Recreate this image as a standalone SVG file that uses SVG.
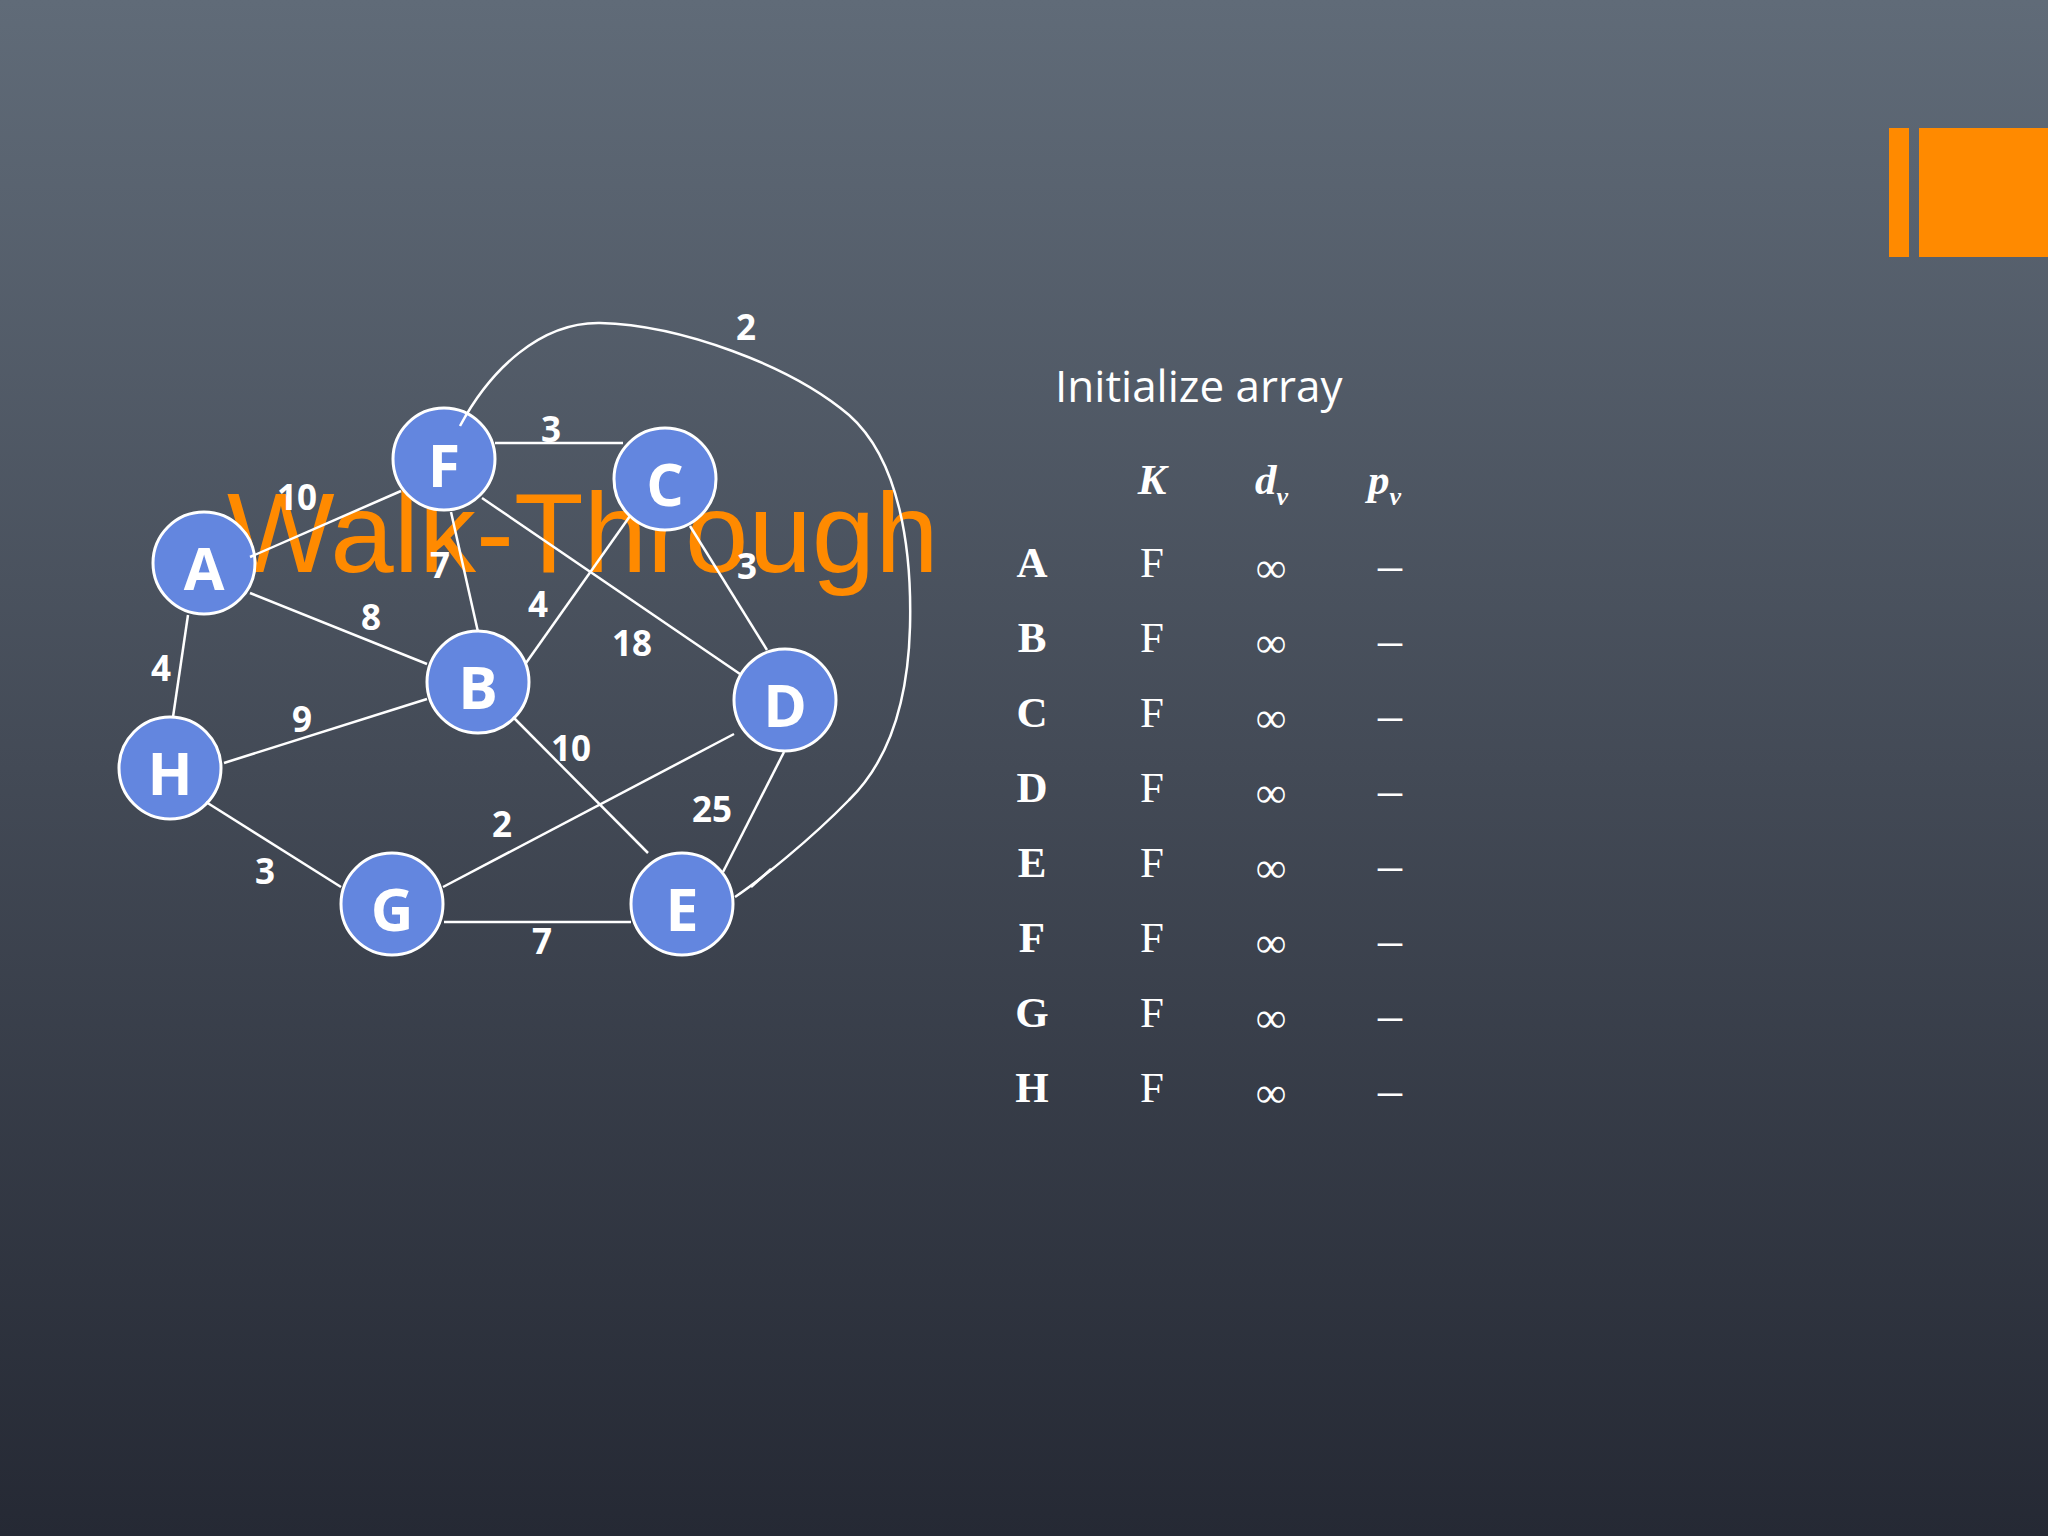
<svg xmlns="http://www.w3.org/2000/svg" width="2048" height="1536" viewBox="0 0 2048 1536">
  <defs>
    <linearGradient id="bg" x1="0" y1="0" x2="0" y2="1">
      <stop offset="0" stop-color="#606b78"/>
      <stop offset="0.5" stop-color="#434a56"/>
      <stop offset="1" stop-color="#252934"/>
    </linearGradient>
    <style>
      .node circle { fill: #6386df; stroke: #ffffff; stroke-width: 3; }
      .node text { font-family: "Open Sans", "Liberation Sans", sans-serif; font-weight: bold; font-size: 59px; fill: #ffffff; text-anchor: middle; }
      .edge { stroke: #ffffff; stroke-width: 2.5; fill: none; }
      .wt { font-family: "Open Sans", "Liberation Sans", sans-serif; font-weight: bold; font-size: 35px; fill: #ffffff; text-anchor: middle; }
      .tb { font-family: "Liberation Serif", "Times New Roman", serif; font-size: 43px; fill: #ffffff; text-anchor: middle; }
      .tbs { font-family: "Liberation Serif", "Times New Roman", serif; font-size: 43px; fill: #ffffff; text-anchor: start; }
      .rowh { font-weight: bold; }
      .hd { font-weight: bold; font-style: italic; }
      .dash { font-size: 48px; }
      .orange { fill: #ff8a00; }
    </style>
  </defs>

  <rect x="0" y="0" width="2048" height="1536" fill="url(#bg)"/>

  <!-- decorative bars -->
  <rect class="orange" x="1889" y="128" width="20" height="129"/>
  <rect class="orange" x="1919" y="128" width="129" height="129"/>

  <!-- title -->
  <text x="227" y="572" font-family="Liberation Sans, Arial, sans-serif" font-size="114" class="orange">Walk-Through</text>

  <!-- nodes -->
  <g id="node-F" class="node"><circle cx="444" cy="459" r="51"/><text x="444" y="487">F</text></g>
  <g id="node-C" class="node"><circle cx="665" cy="479" r="51"/><text x="665" y="506">C</text></g>
  <g id="node-A" class="node"><circle cx="204" cy="563" r="51"/><text x="204" y="590">A</text></g>
  <g id="node-B" class="node"><circle cx="478" cy="682" r="51"/><text x="478" y="709">B</text></g>
  <g id="node-D" class="node"><circle cx="785" cy="700" r="51"/><text x="785" y="727">D</text></g>
  <g id="node-H" class="node"><circle cx="170" cy="768" r="51"/><text x="170" y="795">H</text></g>
  <g id="node-G" class="node"><circle cx="392" cy="904" r="51"/><text x="392" y="931">G</text></g>
  <g id="node-E" class="node"><circle cx="682" cy="904" r="51"/><text x="682" y="931">E</text></g>

  <!-- connectors -->
  <g id="connectors">
    <line class="edge" x1="495" y1="443" x2="623" y2="443"/>
    <line class="edge" x1="250" y1="557" x2="401" y2="491"/>
    <line class="edge" x1="451" y1="512" x2="478" y2="632"/>
    <line class="edge" x1="482" y1="498" x2="740" y2="674"/>
    <line class="edge" x1="630" y1="516" x2="526" y2="663"/>
    <line class="edge" x1="690" y1="526" x2="767" y2="650"/>
    <line class="edge" x1="250" y1="593" x2="427" y2="664"/>
    <line class="edge" x1="188" y1="615" x2="173" y2="717"/>
    <line class="edge" x1="224" y1="763" x2="427" y2="699"/>
    <line class="edge" x1="206" y1="802" x2="341" y2="887"/>
    <line class="edge" x1="443" y1="887" x2="734" y2="734"/>
    <line class="edge" x1="444" y1="922" x2="631" y2="922" stroke-width="3.5"/>
    <line class="edge" x1="513" y1="717" x2="648" y2="853"/>
    <line class="edge" x1="784" y1="752" x2="723" y2="872"/>
    <path class="edge" d="M460,426 C490,370 540,322 600,323 C680,325 790,365 849,415 C900,460 912,550 910,627 C908,700 890,760 849,800 C810,840 760,880 735,897"/>
    <line class="edge" x1="751" y1="887" x2="771" y2="869"/>
  </g>

  <!-- edge weights -->
  <g id="weights">
    <text class="wt" x="746" y="340">2</text>
    <text class="wt" x="551" y="442">3</text>
    <text class="wt" x="297" y="510">10</text>
    <text class="wt" x="440" y="578">7</text>
    <text class="wt" x="747" y="579">3</text>
    <text class="wt" x="371" y="630">8</text>
    <text class="wt" x="538" y="617">4</text>
    <text class="wt" x="632" y="656">18</text>
    <text class="wt" x="161" y="681">4</text>
    <text class="wt" x="302" y="732">9</text>
    <text class="wt" x="571" y="761">10</text>
    <text class="wt" x="502" y="837">2</text>
    <text class="wt" x="712" y="822">25</text>
    <text class="wt" x="265" y="884">3</text>
    <text class="wt" x="542" y="954">7</text>
  </g>

  <!-- table -->
  <g id="table">
    <text x="1055" y="402" font-family="Open Sans, Liberation Sans, sans-serif" font-size="44" fill="#ffffff">Initialize array</text>
    <text class="tb hd" x="1152" y="494">K</text>
    <text class="tbs hd" x="1255" y="494">d<tspan font-size="26" dy="11">v</tspan></text>
    <text class="tbs hd" x="1368" y="494">p<tspan font-size="26" dy="11">v</tspan></text>

    <g class="tb">
      <text class="rowh" x="1032" y="577">A</text>
      <text class="rowh" x="1032" y="652">B</text>
      <text class="rowh" x="1032" y="727">C</text>
      <text class="rowh" x="1032" y="802">D</text>
      <text class="rowh" x="1032" y="877">E</text>
      <text class="rowh" x="1032" y="952">F</text>
      <text class="rowh" x="1032" y="1027">G</text>
      <text class="rowh" x="1032" y="1102">H</text>

      <text x="1152" y="577">F</text>
      <text x="1152" y="652">F</text>
      <text x="1152" y="727">F</text>
      <text x="1152" y="802">F</text>
      <text x="1152" y="877">F</text>
      <text x="1152" y="952">F</text>
      <text x="1152" y="1027">F</text>
      <text x="1152" y="1102">F</text>

      <text x="1271" y="582">∞</text>
      <text x="1271" y="657">∞</text>
      <text x="1271" y="732">∞</text>
      <text x="1271" y="807">∞</text>
      <text x="1271" y="882">∞</text>
      <text x="1271" y="957">∞</text>
      <text x="1271" y="1032">∞</text>
      <text x="1271" y="1107">∞</text>

      <text class="dash" x="1390" y="581">–</text>
      <text class="dash" x="1390" y="656">–</text>
      <text class="dash" x="1390" y="731">–</text>
      <text class="dash" x="1390" y="806">–</text>
      <text class="dash" x="1390" y="881">–</text>
      <text class="dash" x="1390" y="956">–</text>
      <text class="dash" x="1390" y="1031">–</text>
      <text class="dash" x="1390" y="1106">–</text>
    </g>
  </g>
</svg>
